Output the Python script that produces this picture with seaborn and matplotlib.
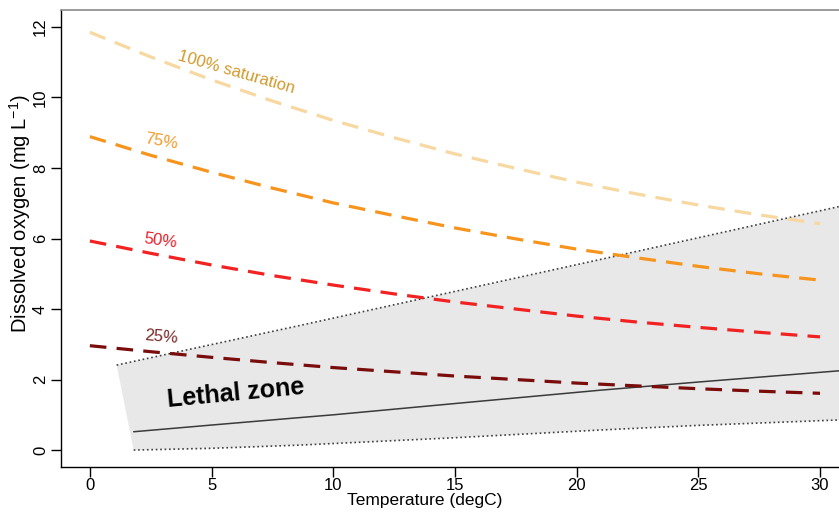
import matplotlib
matplotlib.use("Agg")
import matplotlib.pyplot as plt
import seaborn as sns
import pandas as pd

# ---- data ----
temperature = [0, 2.5, 5, 7.5, 10, 12.5, 15, 17.5, 20, 22.5, 25, 27.5, 30]
sat_100 = [11.85, 11.15, 10.50, 9.90, 9.35, 8.86, 8.40, 7.99, 7.60, 7.26, 6.95, 6.67, 6.42]
sat_75 = [8.89, 8.36, 7.88, 7.43, 7.01, 6.65, 6.30, 5.99, 5.70, 5.45, 5.21, 5.00, 4.82]
sat_50 = [5.93, 5.58, 5.25, 4.95, 4.68, 4.43, 4.20, 4.00, 3.80, 3.63, 3.48, 3.34, 3.21]
sat_25 = [2.96, 2.79, 2.63, 2.48, 2.34, 2.22, 2.10, 2.00, 1.90, 1.82, 1.74, 1.67, 1.61]

lethal_upper_t = [1.1, 8.6, 21.0, 31.0]
lethal_upper_do = [2.41, 3.53, 5.41, 6.94]
lethal_lower_t = [1.8, 5.0, 8.6, 15.0, 21.0, 25.0, 31.0]
lethal_lower_do = [0.0, 0.05, 0.14, 0.35, 0.57, 0.70, 0.86]
median_t = [1.8, 5.0, 8.6, 10.0, 15.0, 21.0, 25.0, 31.0]
median_do = [0.52, 0.71, 0.92, 1.00, 1.32, 1.70, 1.93, 2.26]

series_labels = ["100% saturation", "75%", "50%", "25%"]
x_ticks = [0, 5, 10, 15, 20, 25, 30]
y_ticks = [0, 2, 4, 6, 8, 10, 12]

# ---- style ----
sns.set_style("ticks")
plt.rcParams["font.family"] = ["Liberation Sans", "DejaVu Sans"]
plt.rcParams["mathtext.fontset"] = "custom"
plt.rcParams["mathtext.rm"] = "Liberation Sans"
plt.rcParams["mathtext.it"] = "Liberation Sans:italic"

fig = plt.figure(figsize=(8.39, 5.15), dpi=100)
ax = fig.add_axes([0.0723, 0.0932, 0.9277, 0.888])

# lethal zone polygon
poly_x = lethal_upper_t + lethal_lower_t[::-1]
poly_y = lethal_upper_do + lethal_lower_do[::-1]
ax.fill(poly_x, poly_y, color="#e8e8e8", lw=0, zorder=1)

# boundaries and median
sns.lineplot(x=lethal_upper_t, y=lethal_upper_do, ax=ax, color="#404040",
             lw=1.2, linestyle=":", zorder=2)
sns.lineplot(x=lethal_lower_t, y=lethal_lower_do, ax=ax, color="#404040",
             lw=1.2, linestyle=":", zorder=2)
sns.lineplot(x=median_t, y=median_do, ax=ax, color="#3a3a3a", lw=1.1, zorder=2)

# saturation curves
df = pd.DataFrame({"t": temperature, "s100": sat_100, "s75": sat_75,
                   "s50": sat_50, "s25": sat_25})
line_colors = ["#f7d8a0", "#f7941d", "#f22222", "#7a0c0c"]
for col, c in zip(["s100", "s75", "s50", "s25"], line_colors):
    sns.lineplot(data=df, x="t", y=col, ax=ax, color=c, lw=2.3, zorder=3)
    ax.lines[-1].set_dashes((5.2, 3.2))
    ax.lines[-1].set_dash_capstyle("butt")

# labels on curves
label_pos = [(6.0, 10.72, -16), (2.92, 8.74, -10), (2.92, 5.93, -8), (2.92, 3.2, -5)]
label_colors = ["#d19a2c", "#f29a2a", "#e8202a", "#7a2626"]
for txt, (lx, ly, rot), c in zip(series_labels, label_pos, label_colors):
    ax.text(lx, ly, txt, color=c, fontsize=12, rotation=rot,
            ha="center", va="center", rotation_mode="anchor", zorder=4)

ax.text(6.0, 1.62, "Lethal zone", fontsize=18, fontweight="bold", color="black",
        rotation=5.5, ha="center", va="center", rotation_mode="anchor", zorder=4)

# axes
ax.set_xlim(-1.2, 30.78)
ax.set_ylim(-0.48, 12.49)
ax.set_xticks(x_ticks)
ax.set_yticks(y_ticks)
ax.tick_params(axis="both", direction="out", length=7, width=1, color="black",
               labelsize=12, labelcolor="black")
ax.tick_params(axis="x", pad=1)
ax.tick_params(axis="y", pad=2.2)
for lab in ax.get_yticklabels():
    lab.set_rotation(90)
    lab.set_va("center")

ax.set_xlabel("Temperature (degC)", fontsize=12.5, color="black")
ax.set_ylabel(r"Dissolved oxygen (mg L$^{-1}$)", fontsize=14.5, color="black")
ax.xaxis.set_label_coords(0.468, -0.057)
ax.yaxis.set_label_coords(-0.036, 0.555)

ax.spines["right"].set_visible(False)
ax.spines["top"].set_color("#8a8a8a")
ax.spines["top"].set_linewidth(1.2)
for s in ["left", "bottom"]:
    ax.spines[s].set_color("black")
    ax.spines[s].set_linewidth(1.0)

fig.savefig("out.png", dpi=100)
